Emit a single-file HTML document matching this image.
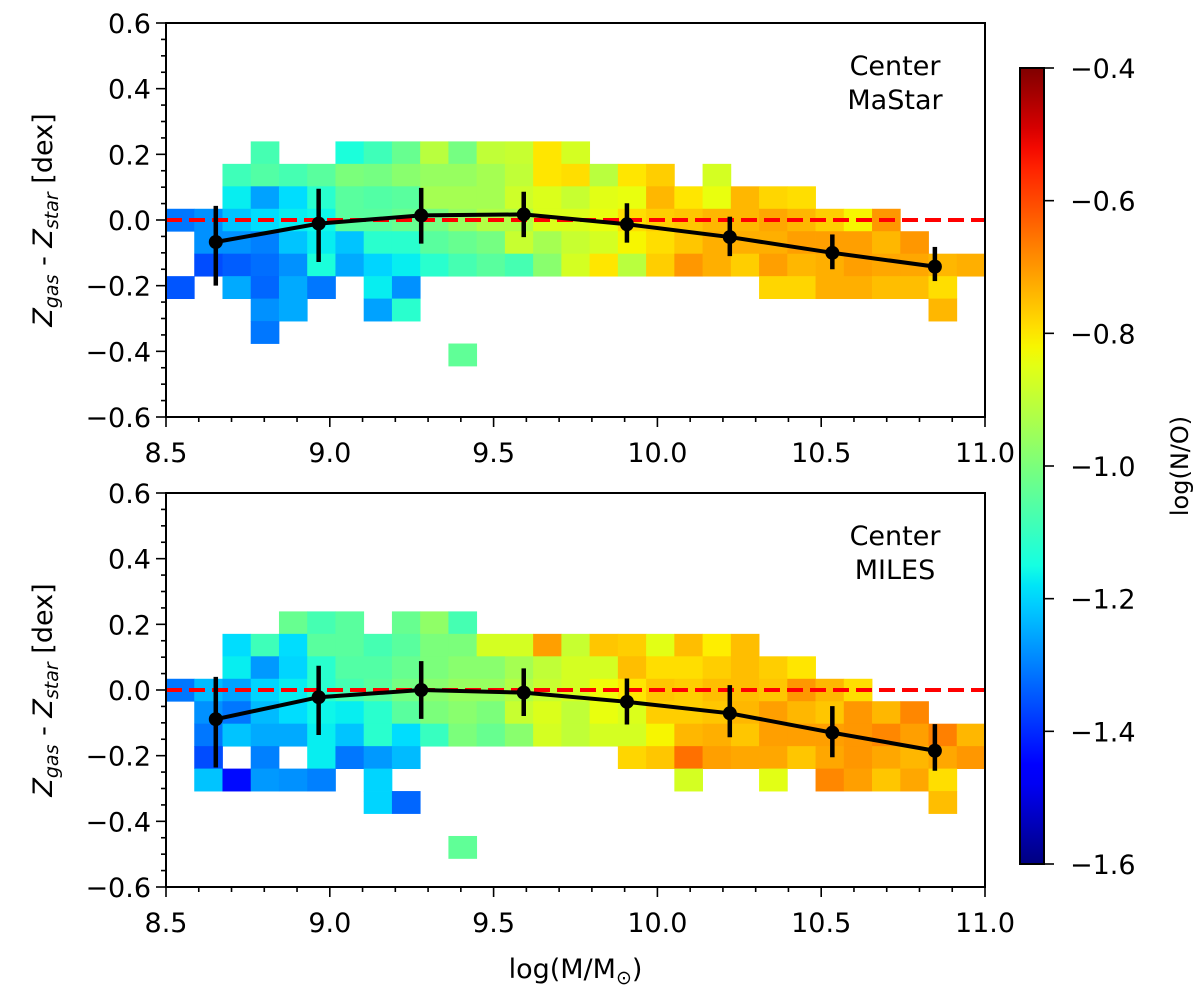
<!DOCTYPE html>
<html><head><meta charset="utf-8"><style>
html,body{margin:0;padding:0;background:#fff;}
svg{display:block;font-family:"DejaVu Sans","Liberation Sans",sans-serif;}
</style></head><body>
<svg id="fig" width="1200" height="996" viewBox="0 0 1200 996" xmlns="http://www.w3.org/2000/svg"></svg>
<script>
// ---- data ----
const xTicks = [8.5, 9.0, 9.5, 10.0, 10.5, 11.0];
const xTickLabels = ["8.5", "9.0", "9.5", "10.0", "10.5", "11.0"];
const yTicks = [0.6, 0.4, 0.2, 0.0, -0.2, -0.4, -0.6];
const yTickLabels = ["0.6", "0.4", "0.2", "0.0", "\u22120.2", "\u22120.4", "\u22120.6"];
const cbTicks = [-0.4, -0.6, -0.8, -1.0, -1.2, -1.4, -1.6];
const cbTickLabels = ["\u22120.4", "\u22120.6", "\u22120.8", "\u22121.0", "\u22121.2", "\u22121.4", "\u22121.6"];
const binCount = 29;
const rowHeight = 0.0684;
const meanMass = [8.652, 8.966, 9.279, 9.592, 9.907, 10.221, 10.534, 10.847];
const topMean = [-0.067, -0.011, 0.014, 0.017, -0.013, -0.052, -0.100, -0.142];
const topErrHi = [0.043, 0.095, 0.098, 0.086, 0.051, 0.010, -0.044, -0.082];
const topErrLo = [-0.200, -0.128, -0.072, -0.052, -0.069, -0.110, -0.150, -0.186];
const botMean = [-0.089, -0.022, 0.000, -0.008, -0.036, -0.071, -0.130, -0.185];
const botErrHi = [0.040, 0.074, 0.088, 0.066, 0.035, 0.015, -0.049, -0.104];
const botErrLo = [-0.236, -0.137, -0.088, -0.079, -0.105, -0.144, -0.205, -0.246];
// cells: [rowIndex, columnIndex, log(N/O)]
const topCells = [
[3,3,-1.08],[3,6,-1.14],[3,7,-1.09],[3,8,-1.03],[3,9,-0.91],[3,10,-1.01],[3,11,-0.9],[3,12,-0.89],[3,13,-0.8],[3,14,-0.87],
[2,2,-1.09],[2,3,-1.06],[2,4,-1.08],[2,5,-1.05],[2,6,-1.0],[2,7,-1.01],[2,8,-0.98],[2,9,-0.96],[2,10,-0.96],[2,11,-0.94],[2,12,-0.9],[2,13,-0.8],[2,14,-0.79],[2,15,-0.91],[2,16,-0.8],[2,17,-0.77],[2,19,-0.87],
[1,2,-1.17],[1,3,-1.26],[1,4,-1.19],[1,5,-1.12],[1,6,-1.05],[1,7,-1.06],[1,8,-1.05],[1,9,-0.94],[1,10,-0.94],[1,11,-0.94],[1,12,-0.88],[1,13,-0.86],[1,14,-0.89],[1,15,-0.85],[1,16,-0.84],[1,17,-0.74],[1,18,-0.8],[1,19,-0.84],[1,20,-0.74],[1,21,-0.78],[1,22,-0.79],
[0,0,-1.31],[0,1,-1.28],[0,2,-1.22],[0,3,-1.19],[0,4,-1.17],[0,5,-1.16],[0,6,-1.05],[0,7,-1.05],[0,8,-1.03],[0,9,-1.01],[0,10,-0.96],[0,11,-0.92],[0,12,-0.92],[0,13,-0.86],[0,14,-0.86],[0,15,-0.84],[0,16,-0.79],[0,17,-0.77],[0,18,-0.76],[0,19,-0.74],[0,20,-0.74],[0,21,-0.72],[0,22,-0.74],[0,23,-0.77],[0,24,-0.82],[0,25,-0.7],
[-1,1,-1.28],[-1,2,-1.28],[-1,3,-1.3],[-1,4,-1.22],[-1,5,-1.17],[-1,6,-1.22],[-1,7,-1.12],[-1,8,-1.12],[-1,9,-1.05],[-1,10,-1.03],[-1,11,-1.01],[-1,12,-0.89],[-1,13,-0.94],[-1,14,-0.89],[-1,15,-0.87],[-1,16,-0.82],[-1,17,-0.79],[-1,18,-0.76],[-1,19,-0.73],[-1,20,-0.73],[-1,21,-0.73],[-1,22,-0.71],[-1,23,-0.71],[-1,24,-0.71],[-1,25,-0.74],[-1,26,-0.7],
[-2,1,-1.36],[-2,2,-1.34],[-2,3,-1.32],[-2,4,-1.28],[-2,5,-1.14],[-2,6,-1.25],[-2,7,-1.2],[-2,8,-1.17],[-2,9,-1.12],[-2,10,-1.08],[-2,11,-1.05],[-2,12,-1.08],[-2,13,-0.98],[-2,14,-0.87],[-2,15,-0.8],[-2,16,-0.91],[-2,17,-0.77],[-2,18,-0.7],[-2,19,-0.73],[-2,20,-0.77],[-2,21,-0.71],[-2,22,-0.74],[-2,23,-0.73],[-2,24,-0.71],[-2,25,-0.72],[-2,26,-0.72],[-2,27,-0.74],[-2,28,-0.73],
[-3,0,-1.35],[-3,2,-1.25],[-3,3,-1.33],[-3,4,-1.25],[-3,5,-1.31],[-3,7,-1.17],[-3,8,-1.28],[-3,21,-0.78],[-3,22,-0.78],[-3,23,-0.73],[-3,24,-0.73],[-3,25,-0.75],[-3,26,-0.75],[-3,27,-0.79],
[-4,3,-1.28],[-4,4,-1.25],[-4,7,-1.26],[-4,8,-1.12],[-4,27,-0.74],
[-5,3,-1.31],
[-6,10,-1.04]
];
const botCells = [
[3,4,-1.03],[3,5,-1.08],[3,6,-1.05],[3,8,-1.03],[3,9,-0.97],[3,10,-1.08],
[2,2,-1.19],[2,3,-1.09],[2,4,-1.19],[2,5,-1.05],[2,6,-1.05],[2,7,-1.08],[2,8,-1.05],[2,9,-1.0],[2,10,-1.0],[2,11,-0.87],[2,12,-0.87],[2,13,-0.71],[2,14,-0.89],[2,15,-0.76],[2,16,-0.77],[2,17,-0.85],[2,18,-0.75],[2,19,-0.81],[2,20,-0.75],
[1,2,-1.17],[1,3,-1.27],[1,4,-1.2],[1,5,-1.12],[1,6,-1.06],[1,7,-1.06],[1,8,-1.03],[1,9,-1.0],[1,10,-0.98],[1,11,-0.98],[1,12,-0.94],[1,13,-0.9],[1,14,-0.87],[1,15,-0.87],[1,16,-0.75],[1,17,-0.79],[1,18,-0.79],[1,19,-0.77],[1,20,-0.75],[1,21,-0.77],[1,22,-0.8],
[0,0,-1.31],[0,1,-1.23],[0,2,-1.26],[0,3,-1.2],[0,4,-1.17],[0,5,-1.12],[0,6,-1.08],[0,7,-1.05],[0,8,-1.01],[0,9,-0.98],[0,10,-0.96],[0,11,-0.96],[0,12,-0.92],[0,13,-0.89],[0,14,-0.87],[0,15,-0.83],[0,16,-0.8],[0,17,-0.76],[0,18,-0.77],[0,19,-0.75],[0,20,-0.75],[0,21,-0.76],[0,22,-0.7],[0,23,-0.74],[0,24,-0.79],
[-1,1,-1.28],[-1,2,-1.31],[-1,3,-1.23],[-1,4,-1.19],[-1,5,-1.16],[-1,6,-1.17],[-1,7,-1.12],[-1,8,-1.05],[-1,9,-1.0],[-1,10,-0.98],[-1,11,-1.0],[-1,12,-0.89],[-1,13,-0.86],[-1,14,-0.9],[-1,15,-0.84],[-1,16,-0.86],[-1,17,-0.77],[-1,18,-0.77],[-1,19,-0.76],[-1,20,-0.74],[-1,21,-0.71],[-1,22,-0.74],[-1,23,-0.76],[-1,24,-0.7],[-1,25,-0.74],[-1,26,-0.68],
[-2,1,-1.31],[-2,2,-1.22],[-2,3,-1.25],[-2,4,-1.25],[-2,5,-1.17],[-2,6,-1.22],[-2,7,-1.12],[-2,8,-1.19],[-2,9,-1.1],[-2,10,-1.0],[-2,11,-1.03],[-2,12,-0.98],[-2,13,-0.87],[-2,14,-0.9],[-2,15,-0.87],[-2,16,-0.87],[-2,17,-0.82],[-2,18,-0.74],[-2,19,-0.73],[-2,20,-0.76],[-2,21,-0.71],[-2,22,-0.71],[-2,23,-0.71],[-2,24,-0.7],[-2,25,-0.68],[-2,26,-0.71],[-2,27,-0.67],[-2,28,-0.74],
[-3,1,-1.36],[-3,3,-1.3],[-3,5,-1.17],[-3,6,-1.31],[-3,7,-1.27],[-3,8,-1.23],[-3,16,-0.78],[-3,17,-0.76],[-3,18,-0.65],[-3,19,-0.71],[-3,20,-0.72],[-3,21,-0.72],[-3,22,-0.76],[-3,23,-0.72],[-3,24,-0.7],[-3,25,-0.72],[-3,26,-0.74],[-3,27,-0.72],[-3,28,-0.7],
[-4,1,-1.22],[-4,2,-1.44],[-4,3,-1.27],[-4,4,-1.28],[-4,5,-1.3],[-4,7,-1.2],[-4,18,-0.87],[-4,21,-0.85],[-4,23,-0.68],[-4,24,-0.71],[-4,25,-0.76],[-4,26,-0.72],[-4,27,-0.79],
[-5,7,-1.2],[-5,8,-1.33],[-5,27,-0.75],
[-7,10,-1.04]
];

// ---- drawing ----
const NS = "http://www.w3.org/2000/svg";
const svg = document.getElementById("fig");
function mk(tag, attrs, parent) {
  const e = document.createElementNS(NS, tag);
  for (const k in attrs) e.setAttribute(k, attrs[k]);
  (parent || svg).appendChild(e);
  return e;
}
function interp(x, xs, ys) {
  if (x <= xs[0]) return ys[0];
  for (let i = 1; i < xs.length; i++) {
    if (x <= xs[i]) return ys[i-1] + (ys[i]-ys[i-1])*(x-xs[i-1])/(xs[i]-xs[i-1]);
  }
  return ys[ys.length-1];
}
function jet(f) {
  const r = interp(f, [0,0.35,0.66,0.89,1], [0,0,1,1,0.5]);
  const g = interp(f, [0,0.125,0.375,0.64,0.91,1], [0,0,1,1,0,0]);
  const b = interp(f, [0,0.11,0.34,0.65,1], [0.5,1,1,0,0]);
  return "rgb(" + Math.round(r*255) + "," + Math.round(g*255) + "," + Math.round(b*255) + ")";
}
const vmin = -1.6, vmax = -0.4;
const X0 = 166, X1 = 985, XMIN = 8.5, XMAX = 11.0;
const xs = v => X0 + (v - XMIN) / (XMAX - XMIN) * (X1 - X0);
const binW = (XMAX - XMIN) / binCount;

function panel(name, top, cells, mean, hi, lo, line1, line2) {
  const Y0 = top, Y1 = top + 394;
  const ys = v => Y0 + (0.6 - v) / 1.2 * (Y1 - Y0);
  const g = mk("g", {});
  
  
  const clipId = name + "-clip";
  const cp = mk("clipPath", {id: clipId}, g);
  mk("rect", {x: X0, y: Y0, width: X1 - X0, height: Y1 - Y0}, cp);
  const hm = mk("g", {"clip-path": "url(#" + clipId + ")"}, g);
  
  
  for (const c of cells) {
    const xa = xs(XMIN + c[1] * binW), xb = xs(XMIN + (c[1] + 1) * binW);
    const ya = ys(c[0] * rowHeight + rowHeight / 2), yb = ys(c[0] * rowHeight - rowHeight / 2);
    const r = mk("rect", {x: xa, y: ya, width: xb - xa + 0.4, height: yb - ya + 0.4, fill: jet((c[2] - vmin) / (vmax - vmin))}, hm);
    
    
  }
  const dl = mk("line", {x1: X0, x2: X1, y1: ys(0), y2: ys(0), stroke: "#ff0000", "stroke-width": 4, "stroke-dasharray": "16 7"}, g);
  
  
  let d = "";
  mean.forEach((m, i) => { d += (i ? "L" : "M") + xs(meanMass[i]) + "," + ys(m); });
  const ml = mk("path", {d: d, fill: "none", stroke: "#000", "stroke-width": 4}, g);
  
  
  mean.forEach((m, i) => {
    const eb = mk("line", {x1: xs(meanMass[i]), x2: xs(meanMass[i]), y1: ys(hi[i]), y2: ys(lo[i]), stroke: "#000", "stroke-width": 4.5}, g);
    
    
    const pt = mk("circle", {cx: xs(meanMass[i]), cy: ys(m), r: 7, fill: "#000"}, g);
    
    
  });
  // frame
  const fr = mk("rect", {x: X0, y: Y0, width: X1 - X0, height: Y1 - Y0, fill: "none", stroke: "#000", "stroke-width": 2}, g);
  
  
  // y ticks
  for (let k = 0; k <= 24; k++) {
    const v = 0.6 - k * 0.05;
    const major = k % 4 === 0;
    mk("line", {x1: X0, x2: X0 - (major ? 10 : 5), y1: ys(v), y2: ys(v), stroke: "#000", "stroke-width": 1.6}, g);
  }
  yTicks.forEach((v, i) => {
    const t = mk("text", {x: X0 - 15, y: ys(v) + 10, "text-anchor": "end", "font-size": 27}, g);
    t.textContent = yTickLabels[i];
    
    
  });
  for (let k = 0; k <= 25; k++) {
    const v = XMIN + k * 0.1;
    const major = k % 5 === 0;
    mk("line", {x1: xs(v), x2: xs(v), y1: Y1, y2: Y1 + (major ? 10 : 5), stroke: "#000", "stroke-width": 1.6}, g);
  }
  xTicks.forEach((v, i) => {
    const t = mk("text", {x: xs(v), y: Y1 + 45, "text-anchor": "middle", "font-size": 27}, g);
    t.textContent = xTickLabels[i];
    
    
  });
  // annotation
  const a1 = mk("text", {x: 895, y: Y0 + 52, "text-anchor": "middle", "font-size": 27}, g);
  a1.textContent = line1;
  
  
  const a2 = mk("text", {x: 895, y: Y0 + 86, "text-anchor": "middle", "font-size": 27}, g);
  a2.textContent = line2;
  
  
  // y label
  const yl = mk("text", {transform: "translate(52," + ((Y0 + Y1) / 2) + ") rotate(-90)", "text-anchor": "middle", "font-size": 27}, g);
  yl.innerHTML = '<tspan font-style="italic">Z</tspan><tspan font-style="italic" font-size="19" dy="6">gas</tspan><tspan dy="-6"> - </tspan><tspan font-style="italic">Z</tspan><tspan font-style="italic" font-size="19" dy="6">star</tspan><tspan dy="-6"> [dex]</tspan>';
  
  
}
panel("top", 23, topCells, topMean, topErrHi, topErrLo, "Center", "MaStar");
panel("bottom", 493, botCells, botMean, botErrHi, botErrLo, "Center", "MILES");

const xl = mk("text", {x: xs(9.75), y: 978, "text-anchor": "middle", "font-size": 27});
xl.innerHTML = 'log(M/M<tspan font-size="19" dy="6">\u2299</tspan><tspan dy="-6">)</tspan>';



// colorbar
const CBX = 1020, CBW = 24, CBY0 = 68, CBY1 = 864;
const cby = v => CBY0 + (vmax - v) / (vmax - vmin) * (CBY1 - CBY0);
const defs = mk("defs", {});
const lg = mk("linearGradient", {id: "jetgrad", x1: 0, y1: 1, x2: 0, y2: 0}, defs);
for (let i = 0; i <= 40; i++) {
  mk("stop", {offset: i / 40, "stop-color": jet(i / 40)}, lg);
}
const cb = mk("rect", {x: CBX, y: CBY0, width: CBW, height: CBY1 - CBY0, fill: "url(#jetgrad)", stroke: "#000", "stroke-width": 2});


cbTicks.forEach((v, i) => {
  mk("line", {x1: CBX + CBW, x2: CBX + CBW + 10, y1: cby(v), y2: cby(v), stroke: "#000", "stroke-width": 1.6});
  const t = mk("text", {x: 1070, y: cby(v) + 10, "font-size": 27});
  t.textContent = cbTickLabels[i];
  
  
});
const cl = mk("text", {transform: "translate(1188," + ((CBY0 + CBY1) / 2) + ") rotate(-90)", "text-anchor": "middle", "font-size": 24});
cl.textContent = "log(N/O)";


</script>
</body></html>
